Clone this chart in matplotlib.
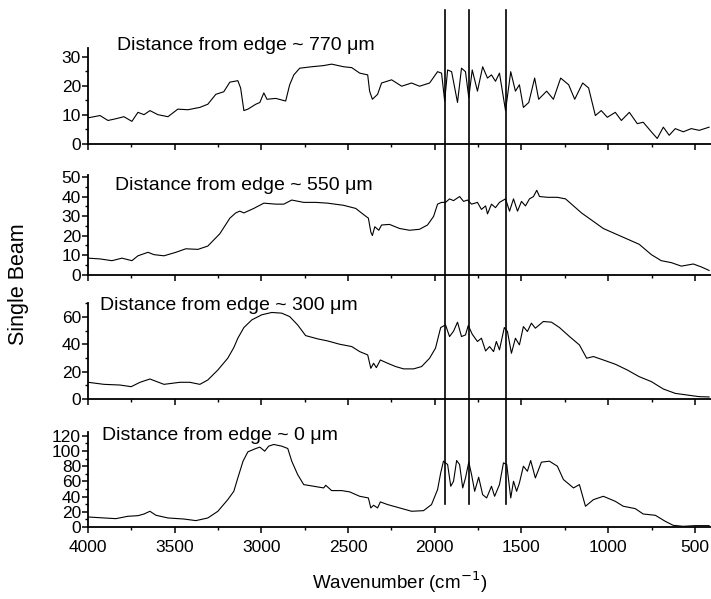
import matplotlib
matplotlib.use("Agg")
import matplotlib.pyplot as plt
from matplotlib.ticker import MultipleLocator
from matplotlib.transforms import blended_transform_factory
from matplotlib.lines import Line2D

plt.rcParams['font.family'] = ['Liberation Sans', 'DejaVu Sans']

# ---- data (wavenumber, single beam) ----
wn_770 = [4000, 3931, 3885, 3839, 3793, 3747, 3712, 3677, 3643, 3597, 3539, 3482, 3424, 3355, 3309,
          3263, 3217, 3182, 3136, 3120, 3101, 3078, 3032, 3009, 2986, 2968, 2917, 2860, 2837, 2813,
          2779, 2710, 2641, 2595, 2526, 2479, 2433, 2387, 2376, 2360, 2330, 2307, 2249, 2191, 2134,
          2088, 2030, 1984, 1961, 1943, 1926, 1903, 1869, 1846, 1823, 1804, 1784, 1754, 1724, 1696,
          1673, 1650, 1627, 1592, 1562, 1535, 1512, 1489, 1458, 1424, 1401, 1355, 1316, 1274, 1228,
          1193, 1147, 1113, 1074, 1040, 1005, 959, 924, 878, 832, 798, 751, 717, 682, 648, 613, 567,
          521, 475, 418]
sb_770 = [9.0, 9.8, 8.1, 8.7, 9.4, 7.8, 10.9, 10.1, 11.5, 10.1, 9.4, 12.0, 11.8, 12.6, 13.7,
          17.1, 18.0, 21.3, 21.8, 19.3, 11.5, 12.0, 13.7, 14.3, 17.6, 15.4, 15.7, 14.8, 20.4, 23.8,
          26.1, 26.6, 27.0, 27.5, 26.6, 26.3, 24.4, 23.8, 18.2, 15.4, 17.1, 21.0, 22.1, 19.9, 21.0,
          19.9, 21.0, 24.9, 24.4, 14.8, 25.5, 24.9, 14.3, 26.1, 24.9, 16.0, 25.5, 18.2, 26.6, 22.7,
          23.8, 21.6, 24.4, 11.5, 24.9, 18.2, 20.4, 12.6, 14.3, 22.7, 15.4, 18.2, 15.4, 22.7, 20.4,
          15.4, 21.0, 19.3, 9.8, 11.5, 9.2, 10.9, 8.1, 10.9, 7.0, 7.5, 4.2, 1.9, 5.8, 3.0, 5.3, 4.2,
          5.3, 4.7, 5.8]

wn_550 = [4000, 3931, 3862, 3804, 3747, 3712, 3654, 3620, 3562, 3493, 3436, 3366, 3309, 3240, 3182,
          3148, 3125, 3101, 3044, 2986, 2917, 2871, 2825, 2756, 2687, 2618, 2526, 2456, 2410, 2383,
          2369, 2360, 2346, 2323, 2307, 2261, 2203, 2145, 2088, 2042, 2007, 1984, 1961, 1938, 1915,
          1892, 1857, 1834, 1811, 1788, 1754, 1731, 1707, 1696, 1673, 1650, 1627, 1592, 1569, 1546,
          1523, 1500, 1477, 1454, 1431, 1412, 1396, 1350, 1293, 1246, 1200, 1154, 1097, 1028, 959,
          890, 821, 751, 694, 636, 578, 509, 463, 418]
sb_550 = [8.4, 8.0, 7.1, 8.4, 7.1, 9.6, 11.4, 10.2, 9.6, 11.4, 13.2, 12.9, 14.6, 20.9, 28.9,
          31.6, 32.5, 31.6, 33.9, 36.6, 36.1, 36.1, 38.2, 37.0, 37.0, 36.6, 35.5, 33.9, 30.7, 28.9,
          21.8, 20.0, 24.5, 22.7, 25.4, 25.7, 23.6, 22.7, 23.2, 25.4, 29.8, 36.1, 37.0, 37.0, 38.8,
          37.9, 40.0, 37.5, 38.2, 36.1, 37.0, 33.4, 35.2, 31.1, 36.1, 34.3, 37.0, 38.8, 32.5, 38.8,
          32.5, 37.5, 35.2, 38.8, 40.0, 43.2, 40.0, 39.6, 39.6, 38.8, 35.2, 31.6, 28.0, 23.6, 20.9,
          18.2, 15.5, 10.2, 7.1, 6.1, 4.3, 5.4, 3.9, 2.1]

wn_300 = [4000, 3908, 3816, 3751, 3700, 3643, 3562, 3470, 3413, 3355, 3309, 3251, 3194, 3159, 3136,
          3101, 3055, 2998, 2940, 2883, 2837, 2791, 2745, 2675, 2618, 2549, 2479, 2433, 2387, 2369,
          2353, 2337, 2314, 2272, 2226, 2180, 2122, 2076, 2030, 1996, 1966, 1938, 1915, 1892, 1869,
          1846, 1823, 1807, 1784, 1754, 1731, 1707, 1684, 1661, 1645, 1627, 1599, 1581, 1558, 1535,
          1512, 1489, 1466, 1443, 1420, 1374, 1327, 1281, 1223, 1166, 1124, 1085, 1028, 959, 890,
          821, 751, 682, 613, 544, 475, 418]
sb_300 = [12.2, 10.7, 10.2, 9.0, 12.2, 14.6, 10.7, 12.2, 12.2, 10.7, 13.9, 21.2, 29.8, 37.6, 44.4,
          52.2, 57.8, 61.5, 63.2, 62.7, 60.2, 54.1, 46.3, 43.9, 42.4, 40.0, 38.3, 34.6, 32.2, 22.4,
          26.1, 22.9, 28.5, 26.1, 23.7, 22.0, 22.0, 23.7, 29.8, 37.1, 52.2, 54.1, 45.6, 49.5, 56.1,
          45.6, 46.8, 53.7, 47.3, 42.0, 44.4, 35.1, 38.3, 34.6, 42.0, 35.9, 52.2, 49.3, 33.4, 44.4,
          39.5, 52.9, 49.3, 55.4, 51.7, 56.6, 56.1, 52.2, 45.6, 39.5, 29.8, 31.0, 28.5, 25.4, 21.2,
          16.3, 12.7, 7.3, 4.1, 2.9, 1.7, 1.5]

wn_0 = [4000, 3908, 3839, 3770, 3712, 3677, 3643, 3608, 3539, 3447, 3378, 3309, 3251, 3194, 3159,
        3136, 3106, 3078, 3032, 3009, 2981, 2958, 2929, 2883, 2848, 2825, 2791, 2756, 2698, 2641,
        2629, 2595, 2537, 2491, 2433, 2383, 2369, 2353, 2330, 2314, 2272, 2203, 2134, 2065, 2019,
        1984, 1966, 1950, 1926, 1908, 1892, 1874, 1857, 1839, 1823, 1804, 1788, 1770, 1747, 1724,
        1701, 1673, 1655, 1627, 1604, 1585, 1562, 1546, 1528, 1512, 1489, 1466, 1447, 1420, 1385,
        1339, 1293, 1258, 1200, 1166, 1131, 1085, 1028, 959, 913, 844, 798, 728, 671, 625, 567,
        498, 418]
sb_0 = [13.2, 11.9, 11.0, 14.1, 14.9, 17.1, 20.7, 15.4, 11.9, 10.5, 8.4, 11.9, 20.7, 36.0, 47.0,
        64.6, 86.6, 98.9, 103.3, 105.1, 99.8, 106.4, 108.6, 106.4, 103.3, 86.6, 69.0, 55.8, 53.6, 51.4,
        54.9, 47.9, 47.9, 46.2, 40.4, 38.2, 25.1, 28.6, 25.1, 33.0, 29.5, 25.1, 20.7, 21.5, 29.5,
        49.2, 71.2, 86.6, 82.2, 53.6, 60.2, 87.5, 82.2, 51.4, 64.6, 85.3, 69.0, 47.0, 65.5, 42.6,
        38.2, 53.6, 40.4, 55.8, 84.4, 82.2, 38.2, 60.2, 47.0, 58.0, 80.0, 73.4, 87.5, 64.6, 85.3,
        86.6, 80.0, 62.4, 51.4, 55.8, 27.3, 36.0, 40.4, 33.8, 27.3, 24.2, 17.1, 15.4, 7.5, 2.2, 0.9,
        1.8, 1.8]

labels = ["Distance from edge ~ 770 \u03bcm", "Distance from edge ~ 550 \u03bcm",
          "Distance from edge ~ 300 \u03bcm", "Distance from edge ~ 0 \u03bcm"]
marker_wn = [1940, 1800, 1590]
xticks = [4000, 3500, 3000, 2500, 2000, 1500, 1000, 500]

panels = [(wn_770, sb_770), (wn_550, sb_550), (wn_300, sb_300), (wn_0, sb_0)]
ylims = [33, 51, 70, 125]
ymaj = [10, 10, 20, 20]
ymin = [5, 5, 10, 10]
# axes boxes [left, bottom, width, height] in figure fraction
boxes = [[0.1238, 0.7596, 0.8762, 0.160],
         [0.1238, 0.5417, 0.8762, 0.166],
         [0.1238, 0.3339, 0.8762, 0.160],
         [0.1238, 0.1202, 0.8762, 0.1586]]
text_pos = [(0.047, 1.03), (0.043, 0.90), (0.019, 0.98), (0.022, 0.96)]

fig = plt.figure(figsize=(7.11, 5.99), dpi=100)
axes = []
for i, ((wn, sb), box) in enumerate(zip(panels, boxes)):
    ax = fig.add_axes(box)
    ax.plot(wn, sb, color='black', lw=0.8)
    ax.set_xlim(4000, 407)
    ax.set_ylim(0, ylims[i])
    ax.set_xticks(xticks)
    ax.xaxis.set_minor_locator(MultipleLocator(250))
    ax.yaxis.set_major_locator(MultipleLocator(ymaj[i]))
    ax.yaxis.set_minor_locator(MultipleLocator(ymin[i]))
    for s in ['top', 'right']:
        ax.spines[s].set_visible(False)
    for s in ['left', 'bottom']:
        ax.spines[s].set_linewidth(1.3)
    ax.tick_params(which='major', direction='out', length=4, width=1.1, labelsize=12.5, pad=1)
    ax.tick_params(which='minor', direction='out', length=2.5, width=1.0)
    if i < 3:
        ax.tick_params(axis='x', labelbottom=False)
    ax.patch.set_alpha(0)
    ax.text(text_pos[i][0], text_pos[i][1], labels[i], transform=ax.transAxes,
            fontsize=14, va='center', ha='left')
    axes.append(ax)

axes[3].tick_params(axis='x', pad=5)

# vertical marker lines spanning all panels
trans = blended_transform_factory(axes[3].transData, fig.transFigure)
for w in marker_wn:
    fig.add_artist(Line2D([w, w], [0.983, 0.159], transform=trans, color='black', lw=1.2))

fig.text(0.026, 0.525, "Single Beam", rotation=90, va='center', ha='center', fontsize=15.5)
fig.text(0.5618, 0.028, "Wavenumber (cm$^{-1}$)", va='center', ha='center', fontsize=13.5)

fig.savefig("out.png", dpi=100)
